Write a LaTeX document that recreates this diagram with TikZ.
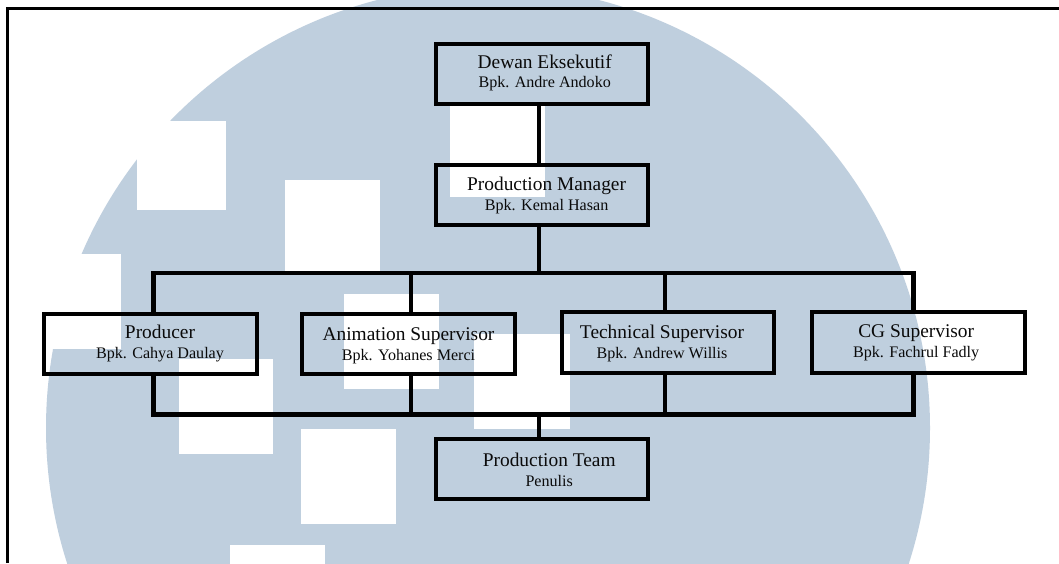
\documentclass[tikz,border=0pt]{standalone}
\usepackage{fontspec}
\setmainfont{Liberation Serif}
\newcommand{\titlefont}{\fontsize{19.4}{20}\selectfont}
\newcommand{\subfont}{\fontsize{16.1}{18}\selectfont}
% dx, title raise, sub raise, title, sub
\newcommand{\twolines}[5]{\makebox[0pt][c]{\hspace*{\dimexpr 2\dimexpr #1pt\relax\relax}\makebox[0pt][c]{\raisebox{-#2pt}[0pt][0pt]{\titlefont #4}}\makebox[0pt][c]{\raisebox{-#3pt}[0pt][0pt]{\subfont #5}}}}
\definecolor{logoblue}{HTML}{BFCFDE}
\definecolor{inkblack}{HTML}{0A0A0A}
\tikzset{
  orgbox/.style={draw=black,line width=4pt,inner sep=0pt,outer sep=0pt,text=inkblack,miter limit=10},
  wire/.style={draw=black,line width=4.6pt,line cap=butt,line join=miter},
  framing/.style={draw=black,line width=3pt,line join=miter},
  hole/.style={fill=white,draw=none}
}
\begin{document}
\begin{tikzpicture}[x=1pt,y=-1pt]
\useasboundingbox (0,0) rectangle (1059,563);
% background logo
\begin{scope}
  \clip (0,0) rectangle (1059,563);
  \fill[white] (0,0) rectangle (1059,563);
  \fill[logoblue] (488,428) circle[radius=442pt];
  \fill[hole] (0,254) rectangle (121,349);
  \fill[hole] (137,121) rectangle (226,210);
  \fill[hole] (285,180) rectangle (380,272);
  \fill[hole] (450,105) rectangle (545,197);
  \fill[hole] (344,294) rectangle (439,389);
  \fill[hole] (474,334) rectangle (570,429);
  \fill[hole] (178.5,359) rectangle (273,454);
  \fill[hole] (301,429) rectangle (396,524);
  \fill[hole] (230,545) rectangle (325,640);
\end{scope}
% frame
\coordinate (frameBL) at (7.5,563);
\coordinate (frameTL) at (7.5,8.5);
\coordinate (frameTR) at (1059,8.5);
\draw[framing] (frameBL) -- (frameTL) -- (frameTR);
% boxes
\node[orgbox,minimum width=212pt,minimum height=60.5pt] (dewan) at (542,73.75) {\twolines{2.7}{-5.7}{14}{Dewan Eksekutif}{Bpk. Andre Andoko}};
\node[orgbox,minimum width=212pt,minimum height=60pt] (manager) at (542,195) {\twolines{4.6}{-5}{15}{Production Manager}{Bpk. Kemal Hasan}};
\node[orgbox,minimum width=213pt,minimum height=60pt] (producer) at (150.5,344) {\twolines{9.5}{-6}{14}{Producer}{Bpk. Cahya Daulay}};
\node[orgbox,minimum width=213pt,minimum height=60pt] (animation) at (408.5,344) {\twolines{0}{-4}{16}{Animation Supervisor}{Bpk. Yohanes Merci}};
\node[orgbox,minimum width=212pt,minimum height=61pt] (technical) at (668,342.5) {\twolines{-6}{-3.8}{15.5}{Technical Supervisor}{Bpk. Andrew Willis}};
\node[orgbox,minimum width=213pt,minimum height=61pt] (cg) at (918.5,342.5) {\twolines{-2.3}{-5.2}{14.5}{CG Supervisor}{Bpk. Fachrul Fadly}};
\node[orgbox,minimum width=212pt,minimum height=60pt] (team) at (542,469) {\twolines{7.2}{-3}{17}{Production Team}{Penulis}};
% bus points
\coordinate (trunkUp) at (539,273);
\coordinate (trunkLow) at (539,414.5);
\coordinate (busUL) at (153.5,273);
\coordinate (busUA) at (411,273);
\coordinate (busUT) at (665,273);
\coordinate (busUC) at (913.6,273);
\coordinate (busLL) at (153.5,414.5);
\coordinate (busLA) at (411,414.5);
\coordinate (busLT) at (665,414.5);
\coordinate (busLC) at (913.6,414.5);
% connectors
\draw[wire] (trunkUp |- dewan.south) -- (trunkUp |- manager.north);
\draw[wire] (trunkUp |- manager.south) -- (trunkUp);
\draw[wire] (producer.north -| busUL) -- (busUL) -- (busUC) -- (cg.north -| busUC);
\draw[wire] (animation.north -| busUA) -- (busUA);
\draw[wire] (technical.north -| busUT) -- (busUT);
\draw[wire] (producer.south -| busLL) -- (busLL) -- (busLC) -- (cg.south -| busLC);
\draw[wire] (animation.south -| busLA) -- (busLA);
\draw[wire] (technical.south -| busLT) -- (busLT);
\draw[wire] (trunkLow) -- (team.north -| trunkLow);
\end{tikzpicture}
\end{document}
